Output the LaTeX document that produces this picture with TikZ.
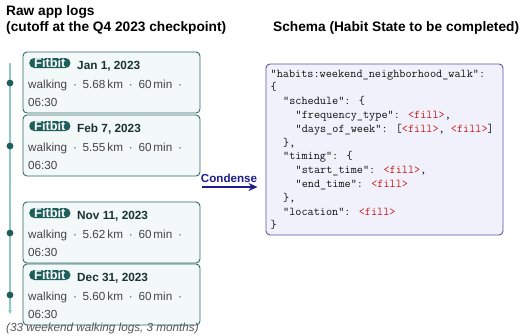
\documentclass[tikz,border=0pt]{standalone}
\usepackage{fontspec}
\setmainfont{Liberation Sans}
\usetikzlibrary{arrows.meta}
\definecolor{tealdark}{HTML}{1F5F5B}
\definecolor{cardborder}{HTML}{2F6B66}
\definecolor{cardfill}{HTML}{F3F9F9}
\definecolor{tllight}{HTML}{8FCBC6}
\definecolor{datecol}{HTML}{1C3232}
\definecolor{logcol}{HTML}{444444}
\definecolor{schemaborder}{HTML}{5656A8}
\definecolor{schemafill}{HTML}{F1F1FB}
\definecolor{navy}{HTML}{1C1C8E}
\definecolor{fillred}{HTML}{C81818}
\definecolor{codeblack}{HTML}{111111}
\definecolor{footcol}{HTML}{555555}
\newcommand\sepdot{\hspace{5.8pt}\textperiodcentered\hspace{5.8pt}}
\newcommand\fl{\textcolor{fillred}{<fill>}}
\newcommand\ind[1]{\hspace*{#1pt}}
\tikzset{
  card/.style={draw=cardborder, fill=cardfill, line width=0.9pt, rounded corners=4pt,
    minimum width=177pt, minimum height=61pt, inner sep=0pt},
  badge/.style={fill=tealdark, text=white, rounded corners=5pt, inner xsep=5pt, inner ysep=0.4pt,
    text height=9.2pt, text depth=0pt, font=\bfseries\fontsize{12.8}{13}\selectfont},
  datetxt/.style={inner sep=0pt, text=datecol, font=\bfseries\fontsize{11.8}{13.8}\selectfont},
  logtxt/.style={inner sep=0pt, text=logcol, font=\fontsize{11.7}{13.8}\selectfont},
  tldot/.style={circle, fill=tealdark, minimum size=6.8pt, inner sep=0pt},
  tlsmall/.style={circle, fill=tllight, minimum size=3pt, inner sep=0pt},
  tline/.style={draw=tllight, line width=1.3pt},
  title/.style={inner sep=0pt, font=\bfseries\fontsize{13.7}{16}\selectfont},
  schemabox/.style={draw=schemaborder, fill=schemafill, line width=0.9pt, rounded corners=4pt,
    minimum width=237pt, minimum height=171pt, inner sep=0pt},
  code/.style={inner sep=0pt, align=left, text=codeblack, font=\ttfamily\fontsize{11.9}{13.8}\selectfont},
  condarrow/.style={draw=navy, line width=1.8pt, -{Stealth[length=9pt,width=8pt]}},
  condlbl/.style={inner sep=0pt, text=navy, font=\bfseries\fontsize{11.6}{13.8}\selectfont},
  foot/.style={inner sep=0pt, text=footcol, font=\itshape\fontsize{11.7}{13.8}\selectfont}
}
\newcommand\logcard[4]{%
  \node[card] (#1) at (111.5,#2+30.5) {};
  \node[badge, anchor=west] (#1b) at (29,#2+11) {Fitbit};
  \node[datetxt, anchor=base west] (#1d) at (77,#2+17) {#3};
  \node[logtxt, anchor=base west] (#1l) at (28,#2+36.5) {walking\sepdot#4\,km\sepdot60\,min\sepdot};
  \node[logtxt, anchor=base west] (#1t) at (28,#2+54) {06:30};
  \node[tldot] (#1p) at (10,#2+31) {};
}
\begin{document}
\begin{tikzpicture}[x=1pt,y=-1pt]
\useasboundingbox (0,0) rectangle (521,335);
% titles
\node[title, anchor=base west] (lefttitle) at (6,15) {Raw app logs};
\node[title, anchor=base west] (lefttitle2) at (6,31) {(cutoff at the Q4 2023 checkpoint)};
\node[title, anchor=base west] (righttitle) at (273,31) {Schema (Habit State to be completed)};
% timeline
\coordinate (tltop) at (10,63);
\coordinate (tlbot) at (10,314);
\draw[tline, -{Stealth[length=4pt,width=4pt]}] (tltop) -- (tlbot);
\node[tlsmall] (s1) at (10,186) {};
\node[tlsmall] (s2) at (10,194) {};
\node[tlsmall] (s3) at (10,202) {};
% cards
\logcard{c1}{52}{Jan 1, 2023}{5.68}
\logcard{c2}{115}{Feb 7, 2023}{5.55}
\logcard{c3}{202}{Nov 11, 2023}{5.62}
\logcard{c4}{264}{Dec 31, 2023}{5.60}
\node[foot, anchor=base west] (footer) at (6,331) {(33 weekend walking logs, 3 months)};
% schema
\node[schemabox] (schema) at (384.5,149.5) {};
\node[code, anchor=base west] (codetxt) at (270.5,228.8) {%
"habits:weekend\_neighborhood\_walk":\\
\{\\
\ind{12.5}"schedule": \{\\
\ind{25}"frequency\_type": \fl,\\
\ind{25}"days\_of\_week": [\fl, \fl]\\
\ind{12.5}\},\\
\ind{12.5}"timing": \{\\
\ind{25}"start\_time": \fl,\\
\ind{25}"end\_time": \fl\\
\ind{12.5}\},\\
\ind{12.5}"location": \fl\\
\}};
% condense arrow
\coordinate (cstart) at (202,187);
\draw[condarrow, shorten >=8pt] (cstart) -- (cstart -| schema.west);
\node[condlbl, anchor=base] (condlabel) at (229,182) {Condense};
\end{tikzpicture}
\end{document}
